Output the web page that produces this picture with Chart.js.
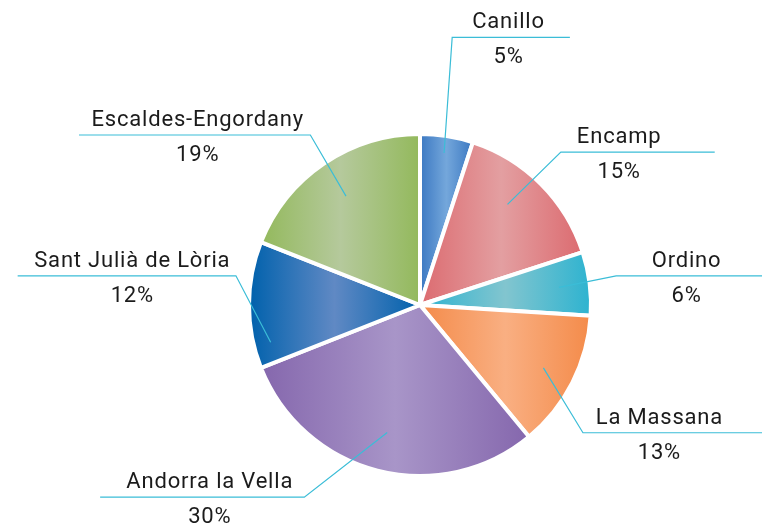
<!DOCTYPE html>
<html>
<head>
<meta charset="utf-8">
<script src="https://cdn.jsdelivr.net/npm/chart.js@4/dist/chart.umd.min.js"></script>
<style>
  html, body { margin: 0; padding: 0; background: #ffffff; }
  #wrap { width: 762px; height: 525px; position: relative; }
</style>
</head>
<body>
<div id="wrap"><canvas id="c" width="762" height="525"></canvas></div>
<script>
// ---- data ----
const categories = ["Canillo", "Encamp", "Ordino", "La Massana", "Andorra la Vella", "Sant Julià de Lòria", "Escaldes-Engordany"];
const shares = [5, 15, 6, 13, 30, 12, 19];

// ---- styles ----
const darkColors  = ["#3b78c2", "#dc6b70", "#2db3d0", "#f48b4a", "#8567ad", "#0061ac", "#93b95c"];
const lightColors = ["#74a7db", "#e39fa1", "#82c5cf", "#f9af82", "#a895c8", "#6089c4", "#b5c99c"];

// label layout, px relative to pie centre at a reference radius of 170
const labelLayout = [
  { anchor: 0.90, aoff:   0, ex:   32, ey: -266, end:  149, tx:   88 },
  { anchor: 0.78, aoff:  -4, ex:  140, ey: -152, end:  293, tx:  198 },
  { anchor: 0.82, aoff:   0, ex:  195, ey:  -29, end:  342, tx:  265 },
  { anchor: 0.81, aoff:   0, ex:  162, ey:  127, end:  342, tx:  238 },
  { anchor: 0.77, aoff:   0, ex: -115, ey:  191, end: -318, tx: -209 },
  { anchor: 0.90, aoff: -14, ex: -183, ey:  -29, end: -400, tx: -286 },
  { anchor: 0.77, aoff:   0, ex: -109, ey: -169, end: -339, tx: -221 }
];
const lineColor = "#3bbdd7";
const textColor = "#1b1b1b";
const labelFont = "400 22px Roboto, 'DejaVu Sans', sans-serif";

const gradientPlugin = {
  id: 'sliceGradient',
  beforeDatasetsDraw(chart) {
    const ctx = chart.ctx;
    const meta = chart.getDatasetMeta(0);
    meta.data.forEach((el, i) => {
      const { x, startAngle, endAngle, outerRadius } = el;
      let minX = x, maxX = x;
      const steps = 60;
      for (let s = 0; s <= steps; s++) {
        const a = startAngle + (endAngle - startAngle) * s / steps;
        const px = x + Math.cos(a) * outerRadius;
        minX = Math.min(minX, px); maxX = Math.max(maxX, px);
      }
      const g = ctx.createLinearGradient(minX, 0, maxX, 0);
      g.addColorStop(0, darkColors[i]);
      g.addColorStop(0.5, lightColors[i]);
      g.addColorStop(1, darkColors[i]);
      el.options.backgroundColor = g;
    });
  }
};

const leaderPlugin = {
  id: 'leaders',
  afterDatasetsDraw(chart) {
    const ctx = chart.ctx;
    const meta = chart.getDatasetMeta(0);
    const values = chart.data.datasets[0].data;
    const labels = chart.data.labels;
    meta.data.forEach((el, i) => {
      const L = labelLayout[i];
      const { x, y, startAngle, endAngle, outerRadius } = el;
      const k = outerRadius / 170;
      const mid = (startAngle + endAngle) / 2 + L.aoff * Math.PI / 180;
      const ax = x + Math.cos(mid) * outerRadius * L.anchor;
      const ay = y + Math.sin(mid) * outerRadius * L.anchor;
      const exx = x + L.ex * k, eyy = y + L.ey * k;
      const endX = x + L.end * k;
      ctx.save();
      ctx.strokeStyle = lineColor;
      ctx.lineWidth = 1.2;
      ctx.beginPath();
      ctx.moveTo(ax, ay);
      ctx.lineTo(exx, eyy);
      ctx.lineTo(endX, eyy);
      ctx.stroke();
      ctx.fillStyle = textColor;
      ctx.font = labelFont;
      try { ctx.letterSpacing = '0.8px'; } catch (e) {}
      ctx.textAlign = 'center';
      ctx.textBaseline = 'alphabetic';
      const tx = x + L.tx * k;
      ctx.fillText(labels[i], tx, eyy - 9);
      ctx.fillText(values[i] + '%', tx, eyy + 26);
      ctx.restore();
    });
  }
};

new Chart(document.getElementById('c'), {
  type: 'pie',
  data: {
    labels: categories,
    datasets: [{
      data: shares,
      backgroundColor: darkColors,
      borderColor: '#ffffff',
      borderWidth: 4,
      hoverOffset: 0
    }]
  },
  options: {
    responsive: false,
    animation: false,
    events: [],
    layout: { padding: { left: 247, right: 169, top: 132, bottom: 47 } },
    plugins: {
      legend: { display: false },
      tooltip: { enabled: false }
    }
  },
  plugins: [gradientPlugin, leaderPlugin]
});
</script>
</body>
</html>
